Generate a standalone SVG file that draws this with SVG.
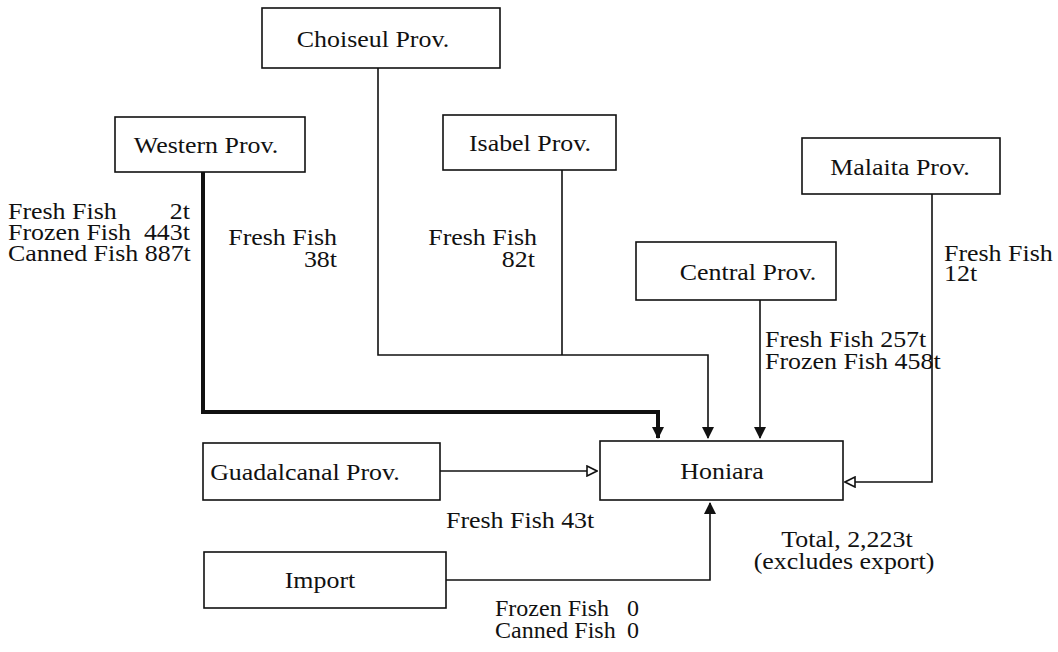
<svg xmlns="http://www.w3.org/2000/svg" width="1058" height="652" viewBox="0 0 1058 652">
  <style>
    .box { fill: #fff; stroke: #111; stroke-width: 1.6; }
    .lbl { font-family: "Liberation Serif", "Times New Roman", serif; font-size: 24px; fill: #111;
           transform-box: fill-box; transform: scaleX(1.08); transform-origin: left center; }
    .mid { text-anchor: middle; transform-origin: center; }
    .end { text-anchor: end; transform-origin: right center; }
    .plain { transform: none; }
    .wire { fill: none; stroke: #111; stroke-width: 1.6; }
    .heavy { stroke-width: 4; }
  </style>
  <defs>
    <marker id="solid" viewBox="0 0 12 12" refX="11" refY="6" markerWidth="12" markerHeight="12" markerUnits="userSpaceOnUse" orient="auto">
      <path d="M0,0 L12,6 L0,12 Z" fill="#111"/>
    </marker>
    <marker id="hollow" viewBox="0 0 12 12" refX="11" refY="6" markerWidth="12" markerHeight="12" markerUnits="userSpaceOnUse" orient="auto">
      <path d="M1,1 L11,6 L1,11 Z" fill="#fff" stroke="#111" stroke-width="1.6"/>
    </marker>
  </defs>
  <rect width="1058" height="652" fill="#fff"/>

  <!-- flows into Honiara -->
  <g id="connectors">
    <polyline class="wire heavy" points="203,172 203,412 658,412 658,438" marker-end="url(#solid)"/>
    <polyline class="wire" points="378,68 378,355 708,355 708,438" marker-end="url(#solid)"/>
    <line class="wire" x1="562" y1="170" x2="562" y2="355"/>
    <line class="wire" x1="760" y1="300" x2="760" y2="438" marker-end="url(#solid)"/>
    <polyline class="wire" points="932,194 932,482 845,482" marker-end="url(#hollow)"/>
    <line class="wire" x1="440" y1="471" x2="597" y2="471" marker-end="url(#hollow)"/>
    <polyline class="wire" points="446,580 710,580 710,503" marker-end="url(#solid)"/>
  </g>

  <g id="choiseul">
    <rect class="box" x="262" y="8" width="238" height="60"/>
    <text class="lbl mid" x="373" y="47">Choiseul Prov.</text>
  </g>
  <g id="western">
    <rect class="box" x="115" y="117" width="190" height="55"/>
    <text class="lbl mid" x="206" y="153">Western Prov.</text>
  </g>
  <g id="isabel">
    <rect class="box" x="443" y="115" width="173" height="55"/>
    <text class="lbl mid" x="530" y="151">Isabel Prov.</text>
  </g>
  <g id="malaita">
    <rect class="box" x="802" y="138" width="198" height="56"/>
    <text class="lbl mid" x="900" y="175">Malaita Prov.</text>
  </g>
  <g id="central">
    <rect class="box" x="636" y="242" width="200" height="58"/>
    <text class="lbl mid" x="748" y="280">Central Prov.</text>
  </g>
  <g id="guadalcanal">
    <rect class="box" x="203" y="443" width="237" height="57"/>
    <text class="lbl mid" x="305" y="480">Guadalcanal Prov.</text>
  </g>
  <g id="honiara">
    <rect class="box" x="600" y="441" width="243" height="59"/>
    <text class="lbl mid" x="722" y="479">Honiara</text>
  </g>
  <g id="import">
    <rect class="box" x="204" y="552" width="242" height="56"/>
    <text class="lbl mid" x="320" y="588">Import</text>
  </g>

  <!-- quantities -->
  <g id="labels">
    <text class="lbl" x="8" y="219">Fresh Fish</text>
    <text class="lbl end" x="190" y="219">2t</text>
    <text class="lbl" x="8" y="240">Frozen Fish</text>
    <text class="lbl end" x="190" y="240">443t</text>
    <text class="lbl" x="8" y="261">Canned Fish 887t</text>

    <text class="lbl end" x="337" y="245">Fresh Fish</text>
    <text class="lbl end" x="337" y="267">38t</text>

    <text class="lbl end" x="537" y="245">Fresh Fish</text>
    <text class="lbl end" x="535" y="267">82t</text>

    <text class="lbl" x="944" y="261">Fresh Fish</text>
    <text class="lbl" x="944" y="281">12t</text>

    <text class="lbl" x="765" y="347">Fresh Fish 257t</text>
    <text class="lbl" x="765" y="369">Frozen Fish 458t</text>

    <text class="lbl" x="446" y="528">Fresh Fish 43t</text>

    <text class="lbl mid" x="847" y="547">Total, 2,223t</text>
    <text class="lbl mid" x="844" y="569">(excludes export)</text>

    <text class="lbl plain" x="495" y="616">Frozen Fish</text>
    <text class="lbl plain end" x="639" y="616">0</text>
    <text class="lbl plain" x="495" y="638">Canned Fish</text>
    <text class="lbl plain end" x="639" y="638">0</text>
  </g>
</svg>
